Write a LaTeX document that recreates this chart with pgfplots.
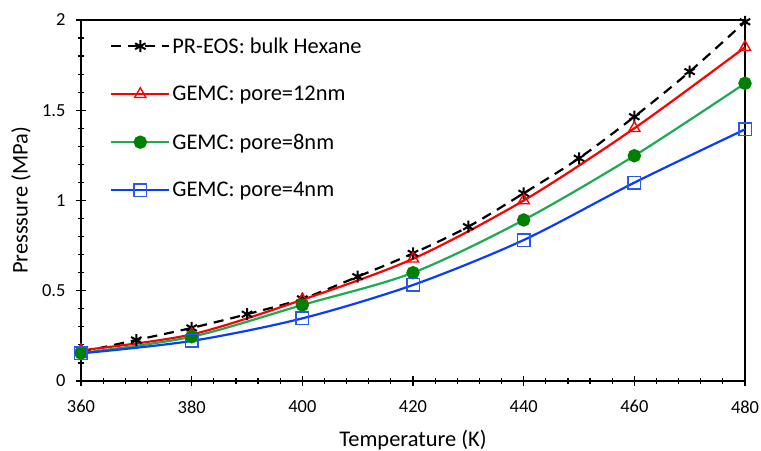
\documentclass[border=0pt]{standalone}
\usepackage{fontspec}
\setmainfont{Carlito}
\usepackage{pgfplots}
\pgfplotsset{compat=1.18}
\definecolor{cred}{HTML}{FF0000}
\definecolor{cgreenl}{HTML}{1DAA50}
\definecolor{cgreenm}{HTML}{008000}
\definecolor{cbluel}{HTML}{0A3CFF}
\definecolor{cbluem}{HTML}{2858F0}
\begin{document}
\begin{tikzpicture}[x=1bp,y=1bp]
\path[use as bounding box] (-81,-70) rectangle (680,381);
\begin{axis}[at={(0,0)}, anchor=south west, scale only axis,
  width=664bp, height=361bp,
  xmin=360, xmax=480, ymin=0, ymax=2,
  xtick={360,380,...,480}, ytick={0,0.5,1,1.5,2},
  minor x tick num=4, minor y tick num=4,
  tick align=center, xtick pos=bottom, ytick pos=left,
  major tick length=10bp, minor tick length=6bp,
  axis line style={line width=1.4bp},
  every tick/.style={black, line width=1.2bp},
  font=\fontsize{18.5}{21}\selectfont,
  /pgf/number format/assume math mode=true,
  yticklabel style={/pgf/number format/fixed, xshift=-7bp},
  xticklabel style={/pgf/number format/1000 sep={}, yshift=-11bp},
  xlabel={Temperature (K)}, ylabel={Presssure (MPa)},
  xlabel style={at={(axis description cs:0.5,-0.163)}, anchor=center, font=\fontsize{22.5}{26}\selectfont},
  ylabel style={at={(axis description cs:-0.0905,0.5)}, anchor=center, font=\fontsize{22.5}{26}\selectfont},
  legend cell align=left,
  legend style={draw=none, fill=none, inner sep=0pt, anchor=north west,
    at={(axis description cs:0.0437,0.957)}, row sep=27.5bp,
    font=\fontsize{22.5}{26}\selectfont},
  legend image code/.code={\draw[mark repeat=2,mark phase=2,#1] plot coordinates {(0bp,0bp) (29bp,0bp) (58bp,0bp)};},
]
\addplot[black, line width=2.2bp, dash pattern=on 10bp off 7bp, smooth,
  mark=asterisk, mark size=6bp, mark options={solid, line width=2bp}]
  coordinates {(360,0.16) (370,0.227) (380,0.294) (390,0.37) (400,0.455) (410,0.578)
  (420,0.707) (430,0.855) (440,1.04) (450,1.234) (460,1.464) (470,1.714) (480,1.99)};
\addlegendentry{PR-EOS: bulk Hexane}
\addplot[cred, line width=2.2bp, smooth,
  mark=triangle, mark size=6.5bp, mark options={line width=1.4bp, fill=white}]
  coordinates {(360,0.17) (380,0.258) (400,0.45) (420,0.677) (440,1.0) (460,1.40) (480,1.849)};
\addlegendentry{GEMC: pore=12nm}
\addplot[cgreenl, line width=2.2bp, smooth,
  mark=*, mark size=5.6bp, mark options={cgreenm, fill=cgreenm}]
  coordinates {(360,0.155) (380,0.245) (400,0.421) (420,0.60) (440,0.892) (460,1.248) (480,1.649)};
\addlegendentry{GEMC: pore=8nm}
\addplot[cbluel, line width=2.2bp, smooth,
  mark=square, mark size=6.2bp, mark options={cbluem, line width=1.4bp}]
  coordinates {(360,0.153) (380,0.222) (400,0.347) (420,0.532) (440,0.781) (460,1.099) (480,1.394)};
\addlegendentry{GEMC: pore=4nm}
\end{axis}
\end{tikzpicture}
\end{document}
